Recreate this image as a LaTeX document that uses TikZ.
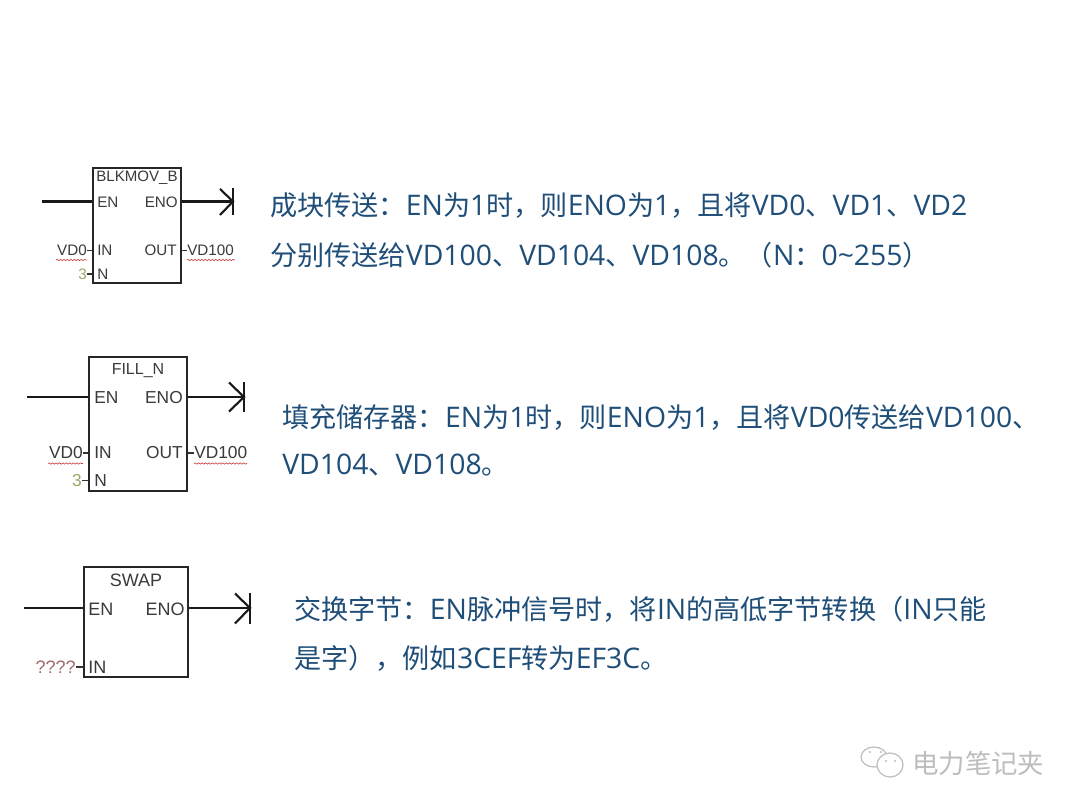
\documentclass[tikz,border=0pt]{standalone}
\usepackage{fontspec}
\usetikzlibrary{decorations.pathmorphing}
\setmainfont{Liberation Sans}
\newfontfamily\cjk{Noto Sans CJK SC}
\newfontfamily\latn[Scale=1.045]{Open Sans}
\newcommand{\ltn}[1]{{\latn #1}}
\definecolor{txtblue}{HTML}{1F4E79}
\definecolor{lblgray}{HTML}{3A3A3A}
\definecolor{numgreen}{HTML}{9AA86A}
\definecolor{qred}{HTML}{A06A6A}
\definecolor{wm}{HTML}{BDBDBD}
\tikzset{
  block/.style={draw=black!85,line width=1.6pt,fill=white,inner sep=0pt},
  wire/.style={draw=black!90,line width=1.6pt},
  stub/.style={draw=black!80,line width=1pt},
  desc/.style={anchor=west,inner sep=0pt,text=txtblue,font=\cjk\fontsize{20.35}{21}\selectfont},
  lbl/.style={inner sep=0pt,text=lblgray,font=\fontsize{#1}{#1}\selectfont},
  lbl/.default=11.4,
  squiggle/.style={draw=red!55!gray,line width=0.45pt,decorate,decoration={snake,amplitude=0.5pt,segment length=2.6pt}},
  wmtext/.style={inner sep=0pt,text=wm,font=\cjk\fontsize{19.8}{20}\selectfont},
  bubble/.style={draw=wm,line width=0.9pt,fill=white},
}
\begin{document}
\begin{tikzpicture}[x=0.75pt,y=-0.75pt]
\useasboundingbox (0,0) rectangle (1080,810);
\fill[white] (0,0) rectangle (1080,810);

% --- block 1
\coordinate (a1) at (42,201.5);
\coordinate (a2) at (233,201.5);
\node[block,minimum width=66pt,minimum height=86.25pt] (b1) at (137,225.5) {};
\draw[wire] (a1) -- (b1.west |- a1);
\draw[wire] (b1.east |- a2) -- (a2);
\draw[wire] (233,188) -- (233,215);
\draw[wire] (220,189) -- (a2) -- (220,215);
\node[lbl=11.3] (b1t) at (137,178) {BLKMOV\_B};
\node[lbl,anchor=west] (b1en) at (97,202) {EN};
\node[lbl,anchor=east] (b1eno) at (178,202) {ENO};
\node[lbl,anchor=west] (b1in) at (97,250.5) {IN};
\node[lbl,anchor=east] (b1out) at (177,250.5) {OUT};
\node[lbl,anchor=west] (b1n) at (97,274) {N};
\node[lbl,anchor=east] (b1v0) at (87,250.5) {VD0};
\node[lbl,anchor=west] (b1v1) at (187,250.5) {VD100};
\node[lbl,anchor=east,text=numgreen] (b1c) at (87,274) {3};
\draw[stub] (b1v0.east) -- (b1.west |- b1v0);
\draw[stub] (b1c.east) -- (b1.west |- b1c);
\draw[stub] (b1.east |- b1v1) -- (b1v1.west);
\draw[squiggle] (56,260) -- (87,260);
\draw[squiggle] (187,260) -- (235,260);

% --- block 2
\coordinate (c1) at (27,397);
\coordinate (c2) at (244,397);
\node[block,minimum width=73.5pt,minimum height=100.5pt] (b2) at (138,424) {};
\draw[wire] (c1) -- (b2.west |- c1);
\draw[wire] (b2.east |- c2) -- (c2);
\draw[wire] (244,382) -- (244,412);
\draw[wire] (229,382.5) -- (c2) -- (229,411.5);
\node[lbl=12] (b2t) at (138,371) {FILL\_N};
\node[lbl=13,anchor=west] (b2en) at (94,398) {EN};
\node[lbl=13,anchor=east] (b2eno) at (183,398) {ENO};
\node[lbl=13,anchor=west] (b2in) at (94,453) {IN};
\node[lbl=13,anchor=east] (b2out) at (183,453) {OUT};
\node[lbl=13,anchor=west] (b2n) at (94,480.5) {N};
\node[lbl=13,anchor=east] (b2v0) at (83,453) {VD0};
\node[lbl=13,anchor=west] (b2v1) at (194,453) {VD100};
\node[lbl=13,anchor=east,text=numgreen] (b2c) at (82,480.5) {3};
\draw[stub] (b2v0.east) -- (b2.west |- b2v0);
\draw[stub] (b2c.east) -- (b2.west |- b2c);
\draw[stub] (b2.east |- b2v1) -- (b2v1.west);
\draw[squiggle] (48,463.5) -- (83,463.5);
\draw[squiggle] (194,463.5) -- (247,463.5);

% --- block 3
\coordinate (d1) at (24,608);
\coordinate (d2) at (250,608);
\node[block,minimum width=78pt,minimum height=82.5pt] (b3) at (136,622) {};
\draw[wire] (d1) -- (b3.west |- d1);
\draw[wire] (b3.east |- d2) -- (d2);
\draw[wire] (250,593) -- (250,624);
\draw[wire] (235,593.5) -- (d2) -- (235,623.5);
\node[lbl=13.5] (b3t) at (136,580) {SWAP};
\node[lbl=13.5,anchor=west] (b3en) at (88,609) {EN};
\node[lbl=13.5,anchor=east] (b3eno) at (185,609) {ENO};
\node[lbl=13.5,anchor=west] (b3in) at (88,667) {IN};
\node[lbl=13.5,anchor=east,text=qred] (b3q) at (76,667) {????};
\draw[stub] (b3q.east) -- (b3.west |- b3q);

% --- descriptions
\node[desc] (t1) at (270,206) {成块传送：\ltn{EN}为\ltn{1}时，则\ltn{ENO}为\ltn{1}，且将\ltn{VD0}、\ltn{VD1}、\ltn{VD2}};
\node[desc] (t2) at (270,255) {分别传送给\ltn{VD100}、\ltn{VD104}、\ltn{VD108}。（\ltn{N}：\ltn{0\textasciitilde255}）};
\node[desc] (t3) at (282,417) {填充储存器：\ltn{EN}为\ltn{1}时，则\ltn{ENO}为\ltn{1}，且将\ltn{VD0}传送给\ltn{VD100}、};
\node[desc] (t4) at (282,465) {\ltn{VD104}、\ltn{VD108}。};
\node[desc] (t5) at (294,609) {交换字节：\ltn{EN}脉冲信号时，将\ltn{IN}的高低字节转换（\ltn{IN}只能};
\node[desc] (t6) at (294,658) {是字），例如\ltn{3CEF}转为\ltn{EF3C}。};

% --- watermark
\draw[bubble] (874,757) ellipse (13 and 10);
\draw[bubble] (890,765) ellipse (13 and 12);
\fill[wm] (870,752) circle (1.1) (881,752) circle (1.1) (886,761) circle (1.1) (895,761) circle (1.1);
\node[wmtext,anchor=west] (wm1) at (912,763) {电力笔记夹};
\end{tikzpicture}
\end{document}
